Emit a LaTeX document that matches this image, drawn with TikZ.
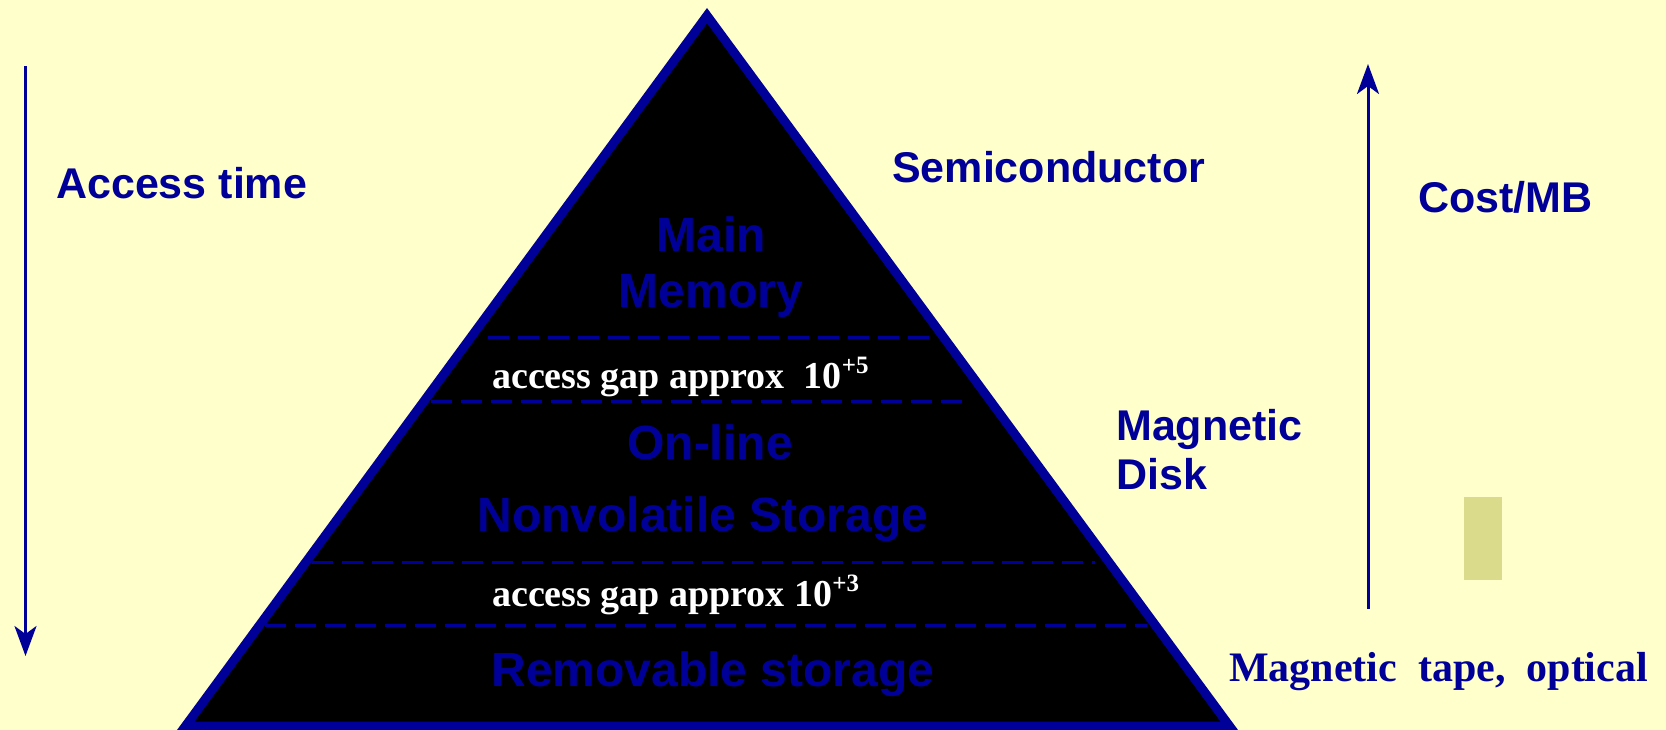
\documentclass[tikz,border=0pt]{standalone}
\usepackage{fontspec}
\setmainfont{Liberation Serif}
\setsansfont{Liberation Sans}
\usetikzlibrary{arrows.meta}
\definecolor{bg}{RGB}{255,255,204}
\definecolor{navy}{RGB}{0,0,153}
\definecolor{khaki}{RGB}{219,220,139}
\begin{document}
\begin{tikzpicture}[x=1pt,y=-1pt,
  lbl/.style={text=navy,font=\sffamily\bfseries\fontsize{43}{50}\selectfont,inner sep=0pt},
  tri/.style={text=navy,font=\sffamily\bfseries\fontsize{48}{54}\selectfont,inner sep=0pt},
  gap/.style={text=white,font=\rmfamily\bfseries\fontsize{38}{44}\selectfont,inner sep=0pt},
  ttl/.style={text=navy,font=\rmfamily\bfseries\fontsize{42}{48}\selectfont,inner sep=0pt},
  sep/.style={draw=navy,line width=3pt,dash pattern=on 21pt off 9pt},
  axis/.style={draw=navy,line width=3pt,-{Stealth[length=30pt,width=22pt,inset=8pt]}}]
\fill[bg] (0,0) rectangle (1666,730);
\useasboundingbox (0,0) rectangle (1666,730);
\clip (0,0) rectangle (1666,730);
% pyramid
\filldraw[fill=black,draw=navy,line width=9pt,line join=miter] (707,15.6) -- (185.5,726) -- (1229.5,726) -- cycle;
% separators
\draw[sep] (488,337) -- (929,337);
\draw[sep] (431,401) -- (968,401);
\draw[sep] (312,562) -- (1095,562);
\draw[sep] (265,625) -- (1147,625);
% texts inside pyramid
\node[tri,anchor=base] (main) at (711,252) {Main};
\node[tri,anchor=base] (mem) at (711,308) {Memory};
\node[gap,anchor=base west] (gap5) at (492,388) {access gap approx\ \ 10\raisebox{0.38em}{\fontsize{25}{25}\selectfont +5}};
\node[tri,anchor=base] (online) at (710,459) {On-line};
\node[tri,anchor=base] (nonvol) at (703,531) {Nonvolatile Storage};
\node[gap,anchor=base west] (gap3) at (492,606) {access gap approx 10\raisebox{0.38em}{\fontsize{25}{25}\selectfont +3}};
\node[tri,anchor=base] (remov) at (713,686) {Removable storage};
% side labels
\node[lbl,anchor=base west] (acc) at (56,199) {Access time};
\node[lbl,anchor=base west] (semi) at (892,183) {Semiconductor};
\node[lbl,anchor=base west] (cost) at (1418,213) {Cost/MB};
\node[lbl,anchor=base west] (magd) at (1116,440) {Magnetic};
\node[lbl,anchor=base west] (disk) at (1116,489) {Disk};
\node[ttl,anchor=base west] (tape) at (1229,681) {Magnetic\ \ tape,\ \ optical};
% axes
\coordinate (a1) at (25.5,66);
\coordinate (a2) at (25.5,656);
\draw[axis] (a1) -- (a2);
\coordinate (b1) at (1368,609);
\coordinate (b2) at (1368,64);
\draw[axis] (b1) -- (b2);
% small block
\fill[khaki] (1464,497) rectangle (1502,580);
\end{tikzpicture}
\end{document}
